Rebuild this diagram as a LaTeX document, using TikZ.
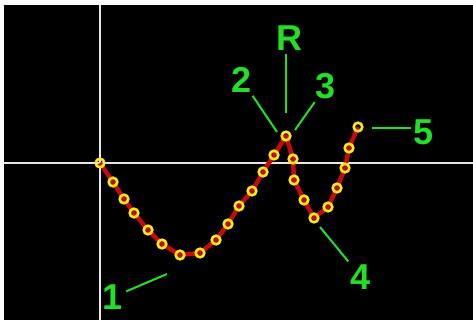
\documentclass[tikz,border=0pt]{standalone}
\usepackage{fontspec}
\setmainfont{Liberation Sans}
\usepackage{tikz}
\definecolor{curvered}{HTML}{C40A0A}
\definecolor{ringyellow}{HTML}{FFE81A}
\definecolor{labgreen}{HTML}{22E022}
\definecolor{axisgrey}{HTML}{E6E6E6}

\begin{document}
\begin{tikzpicture}[
  x=1pt,y=-1pt,
  lab/.style={text=labgreen,font=\fontsize{36}{40}\selectfont\bfseries,inner sep=3pt},
  lead/.style={draw=labgreen,line width=2pt},
  axis/.style={draw=axisgrey,line width=1.6pt},
  curve/.style={draw=curvered,line width=4.4pt,line join=round},
  ring/.style={draw=ringyellow,line width=2.6pt}
]
\useasboundingbox (0,0) rectangle (473,320);
\fill[white] (0,0) rectangle (473,320);
\fill[black] (4,5) rectangle (473,320);
\draw[axis] (100,5) -- (100,320);
\draw[axis] (4,163) -- (473,163);

% points of the path
\foreach \n/\px/\py in {0/100/163,1/113/182,2/124/199,3/134/213,4/148/230,
  5/162/244,6/180/255,7/200/253,8/216/240,9/228/224,10/239/206,11/252/191,
  12/263/172,13/274/155,14/286/136,15/293/159,16/294/180,17/304/200,
  18/314/218,19/328/207,20/337/188,21/345/168,22/349/148,23/358/127}
  \coordinate (p\n) at (\px,\py);

\draw[curve] (p0) \foreach \n in {1,...,23} { -- (p\n) };
\foreach \n in {0,...,23}
  \draw[ring] (p\n) circle (4.3);

% labels
\node[lab] (labR) at (289,38) {R};
\node[lab] (lab2) at (242,80) {2};
\node[lab] (lab3) at (326,86) {3};
\node[lab] (lab5) at (424,132) {5};
\node[lab] (lab4) at (361,277) {4};
\node[lab] (lab1) at (113,297) {1};

\coordinate (tR) at (286,113);
\coordinate (t2) at (277,132);
\coordinate (t3) at (295,130);
\coordinate (t5) at (372,128);
\coordinate (t4) at (320,227);
\coordinate (t1) at (167,274);

\draw[lead] (labR.south -| tR) -- (tR);
\draw[lead] (lab2) -- (t2);
\draw[lead] (lab3) -- (t3);
\draw[lead] (t5) -- (t5 -| lab5.west);
\draw[lead] (lab4) -- (t4);
\draw[lead] (lab1) -- (t1);
\end{tikzpicture}
\end{document}
